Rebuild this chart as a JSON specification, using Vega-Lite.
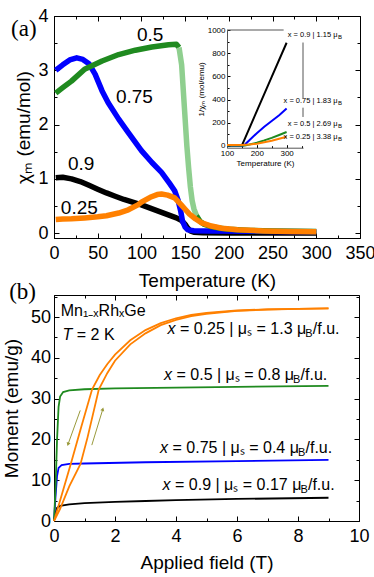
{
  "$schema": "https://vega.github.io/schema/vega-lite/v6.json",
  "padding": {"left": 1, "top": 6, "right": 0, "bottom": 0},
  "spacing": -11,
  "config": {
    "font": "Liberation Sans",
    "view": {"stroke": "#000", "strokeWidth": 1},
    "axis": {"grid": false, "domainColor": "#000", "tickColor": "#000", "labelColor": "#000", "titleColor": "#000", "titleFontWeight": "normal", "labelFont": "Liberation Sans", "titleFont": "Liberation Sans", "tickWidth": 1, "domainWidth": 1, "labelFlush": false, "labelOverlap": false},
    "text": {"font": "Liberation Sans", "color": "#000"}
  },
  "resolve": {"scale": {"color": "independent"}},
  "datasets": {
    "chi": [
      {"s":"0.9","T":2,"v":1.02},{"s":"0.9","T":10,"v":1.03},{"s":"0.9","T":20,"v":1.0},{"s":"0.9","T":30,"v":0.95},{"s":"0.9","T":40,"v":0.88},{"s":"0.9","T":50,"v":0.81},{"s":"0.9","T":60,"v":0.74},{"s":"0.9","T":70,"v":0.68},{"s":"0.9","T":80,"v":0.62},{"s":"0.9","T":90,"v":0.57},{"s":"0.9","T":100,"v":0.52},{"s":"0.9","T":110,"v":0.46},{"s":"0.9","T":120,"v":0.4},{"s":"0.9","T":130,"v":0.34},{"s":"0.9","T":140,"v":0.28},{"s":"0.9","T":146,"v":0.23},{"s":"0.9","T":150,"v":0.16},{"s":"0.9","T":153,"v":0.09},{"s":"0.9","T":156,"v":0.04},{"s":"0.9","T":160,"v":0.015},{"s":"0.9","T":170,"v":0.005},{"s":"0.9","T":200,"v":0.0},{"s":"0.9","T":250,"v":0.0},{"s":"0.9","T":300,"v":0.0},
      {"s":"0.75","T":2,"v":3.0},{"s":"0.75","T":10,"v":3.1},{"s":"0.75","T":18,"v":3.19},{"s":"0.75","T":26,"v":3.23},{"s":"0.75","T":33,"v":3.2},{"s":"0.75","T":40,"v":3.12},{"s":"0.75","T":47,"v":2.93},{"s":"0.75","T":55,"v":2.62},{"s":"0.75","T":62,"v":2.4},{"s":"0.75","T":74,"v":2.1},{"s":"0.75","T":85,"v":1.85},{"s":"0.75","T":100,"v":1.52},{"s":"0.75","T":112,"v":1.3},{"s":"0.75","T":123,"v":1.12},{"s":"0.75","T":132,"v":0.92},{"s":"0.75","T":138,"v":0.78},{"s":"0.75","T":142,"v":0.6},{"s":"0.75","T":145,"v":0.4},{"s":"0.75","T":147,"v":0.22},{"s":"0.75","T":150,"v":0.11},{"s":"0.75","T":153,"v":0.06},{"s":"0.75","T":160,"v":0.045},{"s":"0.75","T":180,"v":0.04},{"s":"0.75","T":250,"v":0.03},{"s":"0.75","T":300,"v":0.025},
      {"s":"0.5","T":2,"v":2.58},{"s":"0.5","T":10,"v":2.68},{"s":"0.5","T":20,"v":2.8},{"s":"0.5","T":35,"v":3.02},{"s":"0.5","T":55,"v":3.17},{"s":"0.5","T":74,"v":3.29},{"s":"0.5","T":93,"v":3.37},{"s":"0.5","T":112,"v":3.43},{"s":"0.5","T":131,"v":3.47},{"s":"0.5","T":140,"v":3.48},{"s":"0.5","T":143,"v":3.42},
      {"s":"0.5d","T":143,"v":3.42},{"s":"0.5d","T":146,"v":3.1},{"s":"0.5d","T":148,"v":2.6},{"s":"0.5d","T":150,"v":2.1},{"s":"0.5d","T":152,"v":1.6},{"s":"0.5d","T":154,"v":1.2},{"s":"0.5d","T":156,"v":0.85},{"s":"0.5d","T":158,"v":0.6},{"s":"0.5d","T":160,"v":0.45},{"s":"0.5d","T":163,"v":0.32},
      {"s":"0.5b","T":163,"v":0.32},{"s":"0.5b","T":167,"v":0.22},{"s":"0.5b","T":172,"v":0.16},{"s":"0.5b","T":180,"v":0.12},{"s":"0.5b","T":190,"v":0.09},{"s":"0.5b","T":200,"v":0.07},{"s":"0.5b","T":225,"v":0.05},{"s":"0.5b","T":250,"v":0.04},{"s":"0.5b","T":300,"v":0.03},
      {"s":"0.25","T":2,"v":0.25},{"s":"0.25","T":10,"v":0.26},{"s":"0.25","T":20,"v":0.265},{"s":"0.25","T":35,"v":0.28},{"s":"0.25","T":50,"v":0.3},{"s":"0.25","T":60,"v":0.32},{"s":"0.25","T":74,"v":0.37},{"s":"0.25","T":85,"v":0.43},{"s":"0.25","T":96,"v":0.52},{"s":"0.25","T":100,"v":0.57},{"s":"0.25","T":110,"v":0.66},{"s":"0.25","T":118,"v":0.71},{"s":"0.25","T":123,"v":0.72},{"s":"0.25","T":130,"v":0.7},{"s":"0.25","T":138,"v":0.65},{"s":"0.25","T":145,"v":0.53},{"s":"0.25","T":150,"v":0.44},{"s":"0.25","T":155,"v":0.35},{"s":"0.25","T":162,"v":0.26},{"s":"0.25","T":169,"v":0.19},{"s":"0.25","T":180,"v":0.13},{"s":"0.25","T":192,"v":0.09},{"s":"0.25","T":210,"v":0.06},{"s":"0.25","T":240,"v":0.04},{"s":"0.25","T":270,"v":0.03},{"s":"0.25","T":300,"v":0.025}
    ],
    "chiLab": [
      {"t":"0.5","T":110,"v":3.65},{"t":"0.75","T":92,"v":2.51},{"t":"0.9","T":31,"v":1.27},{"t":"0.25","T":29,"v":0.47}
    ],
    "panelA": [{"t":"(a)","T":-34.5,"v":3.76}],
    "inv": [
      {"s":"0.9","T":100,"v":5},{"s":"0.9","T":145,"v":5},{"s":"0.9","T":150,"v":5},{"s":"0.9","T":160,"v":64},{"s":"0.9","T":200,"v":300},{"s":"0.9","T":250,"v":595},{"s":"0.9","T":300,"v":890},
      {"s":"0.75","T":100,"v":5},{"s":"0.75","T":155,"v":5},{"s":"0.75","T":160,"v":12},{"s":"0.75","T":175,"v":50},{"s":"0.75","T":200,"v":110},{"s":"0.75","T":225,"v":165},{"s":"0.75","T":250,"v":215},{"s":"0.75","T":275,"v":265},{"s":"0.75","T":300,"v":322},
      {"s":"0.5","T":100,"v":5},{"s":"0.5","T":160,"v":5},{"s":"0.5","T":175,"v":12},{"s":"0.5","T":200,"v":28},{"s":"0.5","T":225,"v":48},{"s":"0.5","T":250,"v":70},{"s":"0.5","T":275,"v":95},{"s":"0.5","T":300,"v":120},
      {"s":"0.25","T":100,"v":8},{"s":"0.25","T":150,"v":8},{"s":"0.25","T":175,"v":12},{"s":"0.25","T":200,"v":20},{"s":"0.25","T":225,"v":32},{"s":"0.25","T":250,"v":45},{"s":"0.25","T":275,"v":62},{"s":"0.25","T":300,"v":80}
    ],
    "invLab": [
      {"lab":"x = 0.9 | 1.15 μ","T":471,"v":957},{"lab":"x = 0.75 | 1.83 μ","T":471,"v":391},{"lab":"x = 0.5 | 2.69 μ","T":471,"v":186},{"lab":"x = 0.25 | 3.38 μ","T":471,"v":77}
    ],
    "insetFrame": [
      {"T":100,"T2":290,"v":1000,"v2":1000},{"T":355,"T2":355,"v":892,"v2":410},{"T":355,"T2":355,"v":330,"v2":250}
    ],
    "mh": [
      {"s":"0.9","H":0,"M":0},{"s":"0.9","H":0.05,"M":2},{"s":"0.9","H":0.1,"M":3.2},{"s":"0.9","H":0.2,"M":3.7},{"s":"0.9","H":0.5,"M":4.1},{"s":"0.9","H":1,"M":4.4},{"s":"0.9","H":2,"M":4.7},{"s":"0.9","H":3,"M":4.9},{"s":"0.9","H":4,"M":5.1},{"s":"0.9","H":6,"M":5.4},{"s":"0.9","H":9,"M":5.7},
      {"s":"0.75","H":0,"M":0},{"s":"0.75","H":0.05,"M":6},{"s":"0.75","H":0.1,"M":11},{"s":"0.75","H":0.15,"M":13},{"s":"0.75","H":0.25,"M":13.7},{"s":"0.75","H":0.5,"M":14.0},{"s":"0.75","H":1,"M":14.1},{"s":"0.75","H":3,"M":14.4},{"s":"0.75","H":6,"M":14.7},{"s":"0.75","H":9,"M":15.0},
      {"s":"0.5","H":0,"M":0},{"s":"0.5","H":0.05,"M":8},{"s":"0.5","H":0.1,"M":20},{"s":"0.5","H":0.15,"M":28},{"s":"0.5","H":0.2,"M":30.5},{"s":"0.5","H":0.3,"M":31.6},{"s":"0.5","H":0.5,"M":32.0},{"s":"0.5","H":1,"M":32.3},{"s":"0.5","H":2,"M":32.5},{"s":"0.5","H":4,"M":32.7},{"s":"0.5","H":6,"M":32.9},{"s":"0.5","H":9,"M":33.1},
      {"s":"0.25d","H":0,"M":0},{"s":"0.25d","H":0.2,"M":5},{"s":"0.25d","H":0.55,"M":14},{"s":"0.25d","H":0.9,"M":23.2},{"s":"0.25d","H":1.25,"M":32.3},{"s":"0.25d","H":1.5,"M":35.8},{"s":"0.25d","H":1.75,"M":38.5},{"s":"0.25d","H":2.0,"M":40.8},{"s":"0.25d","H":2.5,"M":44.3},{"s":"0.25d","H":3.0,"M":46.8},{"s":"0.25d","H":3.5,"M":48.5},{"s":"0.25d","H":4.0,"M":49.7},{"s":"0.25d","H":4.5,"M":50.5},{"s":"0.25d","H":5,"M":51.0},{"s":"0.25d","H":6,"M":51.6},{"s":"0.25d","H":7,"M":51.9},{"s":"0.25d","H":8,"M":52.0},{"s":"0.25d","H":9,"M":52.1},
      {"s":"0.25u","H":0,"M":0},{"s":"0.25u","H":0.2,"M":3},{"s":"0.25u","H":0.5,"M":8.5},{"s":"0.25u","H":0.87,"M":14},{"s":"0.25u","H":1.1,"M":20.5},{"s":"0.25u","H":1.47,"M":32.3},{"s":"0.25u","H":1.75,"M":36.3},{"s":"0.25u","H":2.0,"M":39.3},{"s":"0.25u","H":2.5,"M":43.3},{"s":"0.25u","H":3.0,"M":46.0},{"s":"0.25u","H":3.5,"M":48.0},{"s":"0.25u","H":4.0,"M":49.3},{"s":"0.25u","H":4.5,"M":50.2},{"s":"0.25u","H":5,"M":50.8},{"s":"0.25u","H":6,"M":51.5},{"s":"0.25u","H":7,"M":51.85},{"s":"0.25u","H":8,"M":52.0},{"s":"0.25u","H":9,"M":52.1}
    ],
    "mhLab": [
      {"x0":3.98,"x1":8.24,"M":47.1,"mid":"= 0.25 | μₛ = 1.3 μ"},
      {"x0":3.87,"x1":7.84,"M":35.7,"mid":"= 0.5 | μₛ = 0.8 μ"},
      {"x0":3.74,"x1":8.0,"M":18.0,"mid":"= 0.75 | μₛ = 0.4 μ"},
      {"x0":3.82,"x1":8.08,"M":8.8,"mid":"= 0.9 | μₛ = 0.17 μ"}
    ],
    "mhText": [{"H":0.22,"M":51.5,"t":"Mn₁₋ₓRhₓGe"}],
    "mhT": [{"H":0.6,"M":45.6,"a":"T","b":"= 2 K"}],
    "panelB": [{"t":"(b)","H":-1.03,"M":56.1}],
    "arrows": [
      {"d":"a","H":0.86,"M":27.1,"H2":0.46,"M2":18.8},
      {"d":"b","H":1.24,"M":18.6,"H2":1.6,"M2":27.4}
    ]
  },
  "vconcat": [
    {
      "width": 306,
      "height": 222,
      "layer": [
        {
          "layer": [
            {
              "data": {"name": "chi"},
              "mark": {"type": "line", "strokeWidth": 5.5, "strokeJoin": "round"},
              "encoding": {
                "x": {"field": "T", "type": "quantitative", "scale": {"domain": [0, 350], "nice": false, "zero": false},
                  "axis": {"orient": "bottom", "values": [0,25,50,75,100,125,150,175,200,225,250,275,300,325,350], "labelExpr": "datum.value % 50 === 0 ? datum.label : ''", "tickSize": {"condition": {"test": "datum.value % 50 === 0", "value": -5}, "value": -3}, "labelPadding": 11, "labelFontSize": 18, "title": "Temperature (K)", "titleFontSize": 19, "titlePadding": 7}},
                "y": {"field": "v", "type": "quantitative", "scale": {"domain": [-0.09, 4], "nice": false, "zero": false},
                  "axis": {"orient": "left", "values": [0,0.5,1,1.5,2,2.5,3,3.5,4], "labelExpr": "datum.value % 1 === 0 ? format(datum.value, 'd') : ''", "tickSize": {"condition": {"test": "datum.value % 1 === 0", "value": -5}, "value": -3}, "labelPadding": 11, "labelFontSize": 18, "title": "χₘ (emu/mol)", "titleFontSize": 19, "titlePadding": 4}},
                "color": {"field": "s", "type": "nominal", "legend": null, "scale": {"domain": ["0.9","0.75","0.5","0.5d","0.5b","0.25"], "range": ["#000000","#0000ff","#1f8a1f","#8fcf8f","#1f8a1f","#ff8000"]}}
              }
            },
            {
              "data": {"name": "chi"},
              "mark": {"type": "point", "opacity": 0},
              "encoding": {
                "x": {"field": "T", "type": "quantitative", "scale": {"domain": [0, 350], "nice": false, "zero": false},
                  "axis": {"orient": "top", "values": [0,25,50,75,100,125,150,175,200,225,250,275,300,325,350], "labels": false, "domain": false, "title": null, "tickSize": {"condition": {"test": "datum.value % 50 === 0", "value": -5}, "value": -3}}},
                "y": {"field": "v", "type": "quantitative", "scale": {"domain": [-0.09, 4], "nice": false, "zero": false},
                  "axis": {"orient": "right", "values": [0,0.5,1,1.5,2,2.5,3,3.5,4], "labels": false, "domain": false, "title": null, "tickSize": {"condition": {"test": "datum.value % 1 === 0", "value": -5}, "value": -3}}}
              }
            },
            {
              "data": {"name": "chiLab"},
              "mark": {"type": "text", "fontSize": 19, "align": "center", "baseline": "middle"},
              "encoding": {
                "x": {"field": "T", "type": "quantitative", "scale": {"domain": [0, 350], "nice": false, "zero": false}, "axis": null},
                "y": {"field": "v", "type": "quantitative", "scale": {"domain": [-0.09, 4], "nice": false, "zero": false}, "axis": null},
                "text": {"field": "t"}
              }
            },
            {
              "data": {"name": "panelA"},
              "mark": {"type": "text", "fontSize": 23, "font": "Liberation Serif", "align": "center", "baseline": "middle"},
              "encoding": {
                "x": {"field": "T", "type": "quantitative", "scale": {"domain": [0, 350], "nice": false, "zero": false}, "axis": null},
                "y": {"field": "v", "type": "quantitative", "scale": {"domain": [-0.09, 4], "nice": false, "zero": false}, "axis": null},
                "text": {"field": "t"}
              }
            }
          ],
          "resolve": {"axis": {"x": "independent", "y": "independent"}}
        },
        {
          "layer": [
            {
              "data": {"name": "inv"},
              "mark": {"type": "line", "strokeWidth": 2},
              "encoding": {
                "x": {"field": "T", "type": "quantitative", "scale": {"domain": [100, 355], "range": [173, 249], "nice": false, "zero": false},
                  "axis": {"orient": "bottom", "offset": -90.3, "values": [100,150,200,250,300,350], "labelExpr": "datum.value % 100 === 0 ? format(datum.value, 'd') : ''", "tickSize": {"condition": {"test": "datum.value % 100 === 0", "value": -3}, "value": -2}, "labelPadding": 5, "labelFontSize": 8, "title": "Temperature (K)", "titleFontSize": 8, "titlePadding": 1, "domainColor": "#555"}},
                "y": {"field": "v", "type": "quantitative", "scale": {"domain": [-15, 1000], "range": [131.7, 14], "nice": false, "zero": false},
                  "axis": {"orient": "left", "offset": -173, "values": [0,100,200,300,400,500,600,700,800,900,1000], "labelExpr": "datum.value % 200 === 0 ? format(datum.value, 'd') : ''", "tickSize": {"condition": {"test": "datum.value % 200 === 0", "value": -3}, "value": -2}, "labelPadding": 5, "labelFontSize": 8, "title": "1/χₘ (mol/emu)", "titleFontSize": 8, "titlePadding": 2, "domainColor": "#555"}},
                "color": {"field": "s", "type": "nominal", "legend": null, "scale": {"domain": ["0.9","0.75","0.5","0.5d","0.5b","0.25"], "range": ["#000000","#0000ff","#1f8a1f","#8fcf8f","#1f8a1f","#ff8000"]}}
              }
            },
            {
              "data": {"name": "insetFrame"},
              "mark": {"type": "rule", "color": "#555", "strokeWidth": 1},
              "encoding": {
                "x": {"field": "T", "type": "quantitative", "scale": {"domain": [100, 355], "range": [173, 249], "nice": false, "zero": false}, "axis": null},
                "x2": {"field": "T2"},
                "y": {"field": "v", "type": "quantitative", "scale": {"domain": [-15, 1000], "range": [131.7, 14], "nice": false, "zero": false}, "axis": null},
                "y2": {"field": "v2"}
              }
            },
            {
              "data": {"name": "invLab"},
              "mark": {"type": "text", "fontSize": 7.5, "align": "right", "baseline": "middle"},
              "encoding": {
                "x": {"field": "T", "type": "quantitative", "scale": {"domain": [100, 355], "range": [173, 249], "nice": false, "zero": false}, "axis": null},
                "y": {"field": "v", "type": "quantitative", "scale": {"domain": [-15, 1000], "range": [131.7, 14], "nice": false, "zero": false}, "axis": null},
                "text": {"field": "lab"}
              }
            },
            {
              "data": {"name": "invLab"},
              "mark": {"type": "text", "fontSize": 6, "align": "left", "baseline": "middle", "dy": 2, "dx": 0.5},
              "encoding": {
                "x": {"field": "T", "type": "quantitative", "scale": {"domain": [100, 355], "range": [173, 249], "nice": false, "zero": false}, "axis": null},
                "y": {"field": "v", "type": "quantitative", "scale": {"domain": [-15, 1000], "range": [131.7, 14], "nice": false, "zero": false}, "axis": null},
                "text": {"value": "B"}
              }
            }
          ],
          "resolve": {"axis": {"x": "independent", "y": "independent"}}
        }
      ],
      "resolve": {"scale": {"x": "independent", "y": "independent"}, "axis": {"x": "independent", "y": "independent"}}
    },
    {
      "width": 305,
      "height": 226,
      "layer": [
        {
          "data": {"name": "mh"},
          "mark": {"type": "line", "strokeWidth": 1.8},
          "encoding": {
            "x": {"field": "H", "type": "quantitative", "scale": {"domain": [0, 10], "nice": false, "zero": false},
              "axis": {"orient": "bottom", "values": [0,1,2,3,4,5,6,7,8,9,10], "labelExpr": "datum.value % 2 === 0 ? datum.label : ''", "tickSize": {"condition": {"test": "datum.value % 2 === 0", "value": -5}, "value": -3}, "labelPadding": 11.5, "labelFontSize": 18, "title": "Applied field (T)", "titleFontSize": 19, "titlePadding": 6}},
            "y": {"field": "M", "type": "quantitative", "scale": {"domain": [0, 55.4], "nice": false, "zero": false},
              "axis": {"orient": "left", "values": [0,5,10,15,20,25,30,35,40,45,50,55], "labelExpr": "datum.value % 10 === 0 ? datum.label : ''", "tickSize": {"condition": {"test": "datum.value % 10 === 0", "value": -5}, "value": -3}, "labelPadding": 8.5, "labelFontSize": 18, "title": "Moment (emu/g)", "titleFontSize": 19, "titlePadding": 9}},
            "color": {"field": "s", "type": "nominal", "legend": null, "scale": {"domain": ["0.9","0.75","0.5","0.25d","0.25u"], "range": ["#000000","#0000ff","#1f8a1f","#ff8000","#ff8000"]}}
          }
        },
        {
          "data": {"name": "mh"},
          "mark": {"type": "point", "opacity": 0},
          "encoding": {
            "x": {"field": "H", "type": "quantitative", "scale": {"domain": [0, 10], "nice": false, "zero": false},
              "axis": {"orient": "top", "values": [0,1,2,3,4,5,6,7,8,9,10], "labels": false, "domain": false, "title": null, "tickSize": {"condition": {"test": "datum.value % 2 === 0", "value": -5}, "value": -3}}},
            "y": {"field": "M", "type": "quantitative", "scale": {"domain": [0, 55.4], "nice": false, "zero": false},
              "axis": {"orient": "right", "values": [0,5,10,15,20,25,30,35,40,45,50,55], "labels": false, "domain": false, "title": null, "tickSize": {"condition": {"test": "datum.value % 10 === 0", "value": -5}, "value": -3}}}
          }
        },
        {
          "data": {"name": "arrows"},
          "mark": {"type": "rule", "color": "#9a9a3c", "strokeWidth": 1},
          "encoding": {
            "x": {"field": "H", "type": "quantitative", "scale": {"domain": [0, 10], "nice": false, "zero": false}, "axis": null},
            "y": {"field": "M", "type": "quantitative", "scale": {"domain": [0, 55.4], "nice": false, "zero": false}, "axis": null},
            "x2": {"field": "H2"},
            "y2": {"field": "M2"}
          }
        },
        {
          "data": {"name": "arrows"},
          "transform": [{"filter": "datum.d === 'a'"}],
          "mark": {"type": "point", "shape": "triangle-up", "filled": true, "color": "#9a9a3c", "size": 16, "angle": 199, "opacity": 1},
          "encoding": {
            "x": {"field": "H2", "type": "quantitative", "scale": {"domain": [0, 10], "nice": false, "zero": false}, "axis": null},
            "y": {"field": "M2", "type": "quantitative", "scale": {"domain": [0, 55.4], "nice": false, "zero": false}, "axis": null}
          }
        },
        {
          "data": {"name": "arrows"},
          "transform": [{"filter": "datum.d === 'b'"}],
          "mark": {"type": "point", "shape": "triangle-up", "filled": true, "color": "#9a9a3c", "size": 16, "angle": 17, "opacity": 1},
          "encoding": {
            "x": {"field": "H2", "type": "quantitative", "scale": {"domain": [0, 10], "nice": false, "zero": false}, "axis": null},
            "y": {"field": "M2", "type": "quantitative", "scale": {"domain": [0, 55.4], "nice": false, "zero": false}, "axis": null}
          }
        },
        {
          "data": {"name": "mhLab"},
          "mark": {"type": "text", "fontSize": 16, "fontStyle": "italic", "align": "right", "baseline": "middle"},
          "encoding": {
            "x": {"field": "x0", "type": "quantitative", "scale": {"domain": [0, 10], "nice": false, "zero": false}, "axis": null},
            "y": {"field": "M", "type": "quantitative", "scale": {"domain": [0, 55.4], "nice": false, "zero": false}, "axis": null},
            "text": {"value": "x"}
          }
        },
        {
          "data": {"name": "mhLab"},
          "mark": {"type": "text", "fontSize": 16, "align": "left", "baseline": "middle", "dx": 4.5},
          "encoding": {
            "x": {"field": "x0", "type": "quantitative", "scale": {"domain": [0, 10], "nice": false, "zero": false}, "axis": null},
            "y": {"field": "M", "type": "quantitative", "scale": {"domain": [0, 55.4], "nice": false, "zero": false}, "axis": null},
            "text": {"field": "mid"}
          }
        },
        {
          "data": {"name": "mhLab"},
          "mark": {"type": "text", "fontSize": 11, "align": "left", "baseline": "middle", "dy": 5},
          "encoding": {
            "x": {"field": "x1", "type": "quantitative", "scale": {"domain": [0, 10], "nice": false, "zero": false}, "axis": null},
            "y": {"field": "M", "type": "quantitative", "scale": {"domain": [0, 55.4], "nice": false, "zero": false}, "axis": null},
            "text": {"value": "B"}
          }
        },
        {
          "data": {"name": "mhLab"},
          "mark": {"type": "text", "fontSize": 16, "align": "left", "baseline": "middle", "dx": 7.5},
          "encoding": {
            "x": {"field": "x1", "type": "quantitative", "scale": {"domain": [0, 10], "nice": false, "zero": false}, "axis": null},
            "y": {"field": "M", "type": "quantitative", "scale": {"domain": [0, 55.4], "nice": false, "zero": false}, "axis": null},
            "text": {"value": "/f.u."}
          }
        },
        {
          "data": {"name": "mhText"},
          "mark": {"type": "text", "fontSize": 16, "align": "left", "baseline": "middle"},
          "encoding": {
            "x": {"field": "H", "type": "quantitative", "scale": {"domain": [0, 10], "nice": false, "zero": false}, "axis": null},
            "y": {"field": "M", "type": "quantitative", "scale": {"domain": [0, 55.4], "nice": false, "zero": false}, "axis": null},
            "text": {"field": "t"}
          }
        },
        {
          "data": {"name": "mhT"},
          "mark": {"type": "text", "fontSize": 16, "fontStyle": "italic", "align": "right", "baseline": "middle"},
          "encoding": {
            "x": {"field": "H", "type": "quantitative", "scale": {"domain": [0, 10], "nice": false, "zero": false}, "axis": null},
            "y": {"field": "M", "type": "quantitative", "scale": {"domain": [0, 55.4], "nice": false, "zero": false}, "axis": null},
            "text": {"field": "a"}
          }
        },
        {
          "data": {"name": "mhT"},
          "mark": {"type": "text", "fontSize": 16, "align": "left", "baseline": "middle", "dx": 4.5},
          "encoding": {
            "x": {"field": "H", "type": "quantitative", "scale": {"domain": [0, 10], "nice": false, "zero": false}, "axis": null},
            "y": {"field": "M", "type": "quantitative", "scale": {"domain": [0, 55.4], "nice": false, "zero": false}, "axis": null},
            "text": {"field": "b"}
          }
        },
        {
          "data": {"name": "panelB"},
          "mark": {"type": "text", "fontSize": 23, "font": "Liberation Serif", "align": "center", "baseline": "middle"},
          "encoding": {
            "x": {"field": "H", "type": "quantitative", "scale": {"domain": [0, 10], "nice": false, "zero": false}, "axis": null},
            "y": {"field": "M", "type": "quantitative", "scale": {"domain": [0, 55.4], "nice": false, "zero": false}, "axis": null},
            "text": {"field": "t"}
          }
        }
      ],
      "resolve": {"axis": {"x": "independent", "y": "independent"}}
    }
  ]
}
